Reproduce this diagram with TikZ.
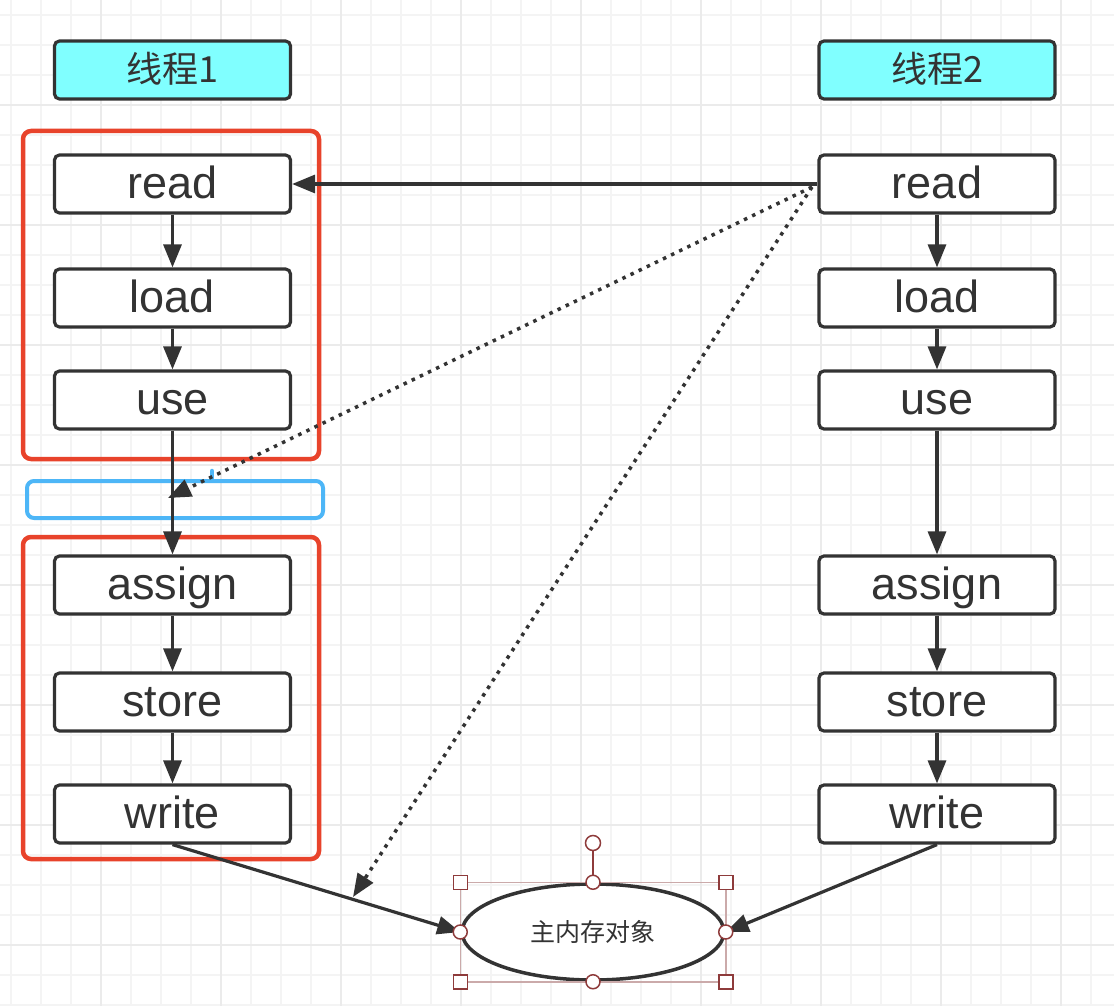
\documentclass[tikz,border=0pt]{standalone}
\usepackage{fontspec}
\setmainfont{Liberation Sans}
\newfontfamily\cjk{Noto Sans CJK SC}
\usetikzlibrary{arrows.meta, shapes.geometric, calc}
\definecolor{ink}{HTML}{333333}
\definecolor{headfill}{HTML}{80FFFF}
\definecolor{frame}{HTML}{E8432B}
\definecolor{sel}{HTML}{4DB6F7}
\definecolor{gridminor}{HTML}{F4F4F4}
\definecolor{gridmajor}{HTML}{EBEBEB}
\definecolor{handle}{HTML}{8E3B3B}
\definecolor{selframe}{HTML}{CBAAAA}

\begin{document}
\begin{tikzpicture}[x=1pt,y=-1pt]
        \tikzset{op/.style = {shape=rectangle,draw=ink,line width=3.2pt,rounded corners=5pt,fill=white,
            minimum width=236pt,minimum height=58pt,inner sep=0pt,text=ink,
            text height=28pt,text depth=0pt,font=\fontsize{45}{45}\selectfont}}
        \tikzset{head/.style = {op,fill=headfill,text height=26pt,font=\cjk\fontsize{36}{36}\selectfont}}
        \tikzset{edge/.style = {draw=ink,line width=3.2pt,-{Triangle[length=23pt,width=18pt]}}}
        \tikzset{dots/.style = {edge,line width=3.5pt,dash pattern=on 3.5pt off 5.5pt}}
        \tikzset{redframe/.style = {draw=frame,line width=4.5pt,rounded corners=8pt}}
        \tikzset{handlebox/.style = {draw=handle,fill=white,line width=1.5pt}}

        \fill[white] (0,0) rectangle (1114,1006);
        \useasboundingbox (0,0) rectangle (1114,1006);
        \foreach \gx in {11,41,...,1111} \draw[gridminor,line width=1.2pt] (\gx,0) -- (\gx,1006);
        \foreach \gy in {15,45,...,1005} \draw[gridminor,line width=1.2pt] (0,\gy) -- (1114,\gy);
        \foreach \gx in {101,221,...,1061} \draw[gridmajor,line width=1.2pt] (\gx,0) -- (\gx,1006);
        \foreach \gy in {105,225,...,945} \draw[gridmajor,line width=1.2pt] (0,\gy) -- (1114,\gy);

        \node[head] (head1) at (172.5, 70) {线程1};
        \node[op] (read1) at (172.5, 184) {read};
        \node[op] (load1) at (172.5, 298) {load};
        \node[op] (use1) at (172.5, 400) {use};
        \node[op] (assign1) at (172.5, 585) {assign};
        \node[op] (store1) at (172.5, 702) {store};
        \node[op] (write1) at (172.5, 814) {write};

        \node[head] (head2) at (937, 70) {线程2};
        \node[op] (read2) at (937, 184) {read};
        \node[op] (load2) at (937, 298) {load};
        \node[op] (use2) at (937, 400) {use};
        \node[op] (assign2) at (937, 585) {assign};
        \node[op] (store2) at (937, 702) {store};
        \node[op] (write2) at (937, 814) {write};

        \draw[redframe] (23, 131) rectangle (319, 459);
        \draw[redframe] (23, 537) rectangle (319, 859);
        \draw[sel,line width=4pt,rounded corners=7pt] (27, 481) rectangle (323, 518);
        \draw[sel,line width=4.5pt,line cap=round] (212, 471) -- (212, 480);

        \node[shape=ellipse,draw=ink,line width=3.5pt,fill=white,minimum width=262pt,minimum height=96pt,
            inner sep=0pt,text=ink,font=\cjk\fontsize{25}{25}\selectfont] (mem) at (593, 932) {主内存对象};

        \draw[edge] (read1) to (load1);
        \draw[edge] (load1) to (use1);
        \draw[edge] (use1) to (assign1);
        \draw[edge] (assign1) to (store1);
        \draw[edge] (store1) to (write1);

        \draw[edge] (read2) to (load2);
        \draw[edge] (load2) to (use2);
        \draw[edge] (use2) to (assign2);
        \draw[edge] (assign2) to (store2);
        \draw[edge] (store2) to (write2);

        \draw[edge] (read2.west) to (read1.east);
        \coordinate (src) at (812, 187);
        \coordinate (gap) at (168, 498);
        \coordinate (mid) at (353, 897);
        \draw[dots] (src) to (gap);
        \draw[dots] (src) to (mid);

        \draw[edge] (write1.south) to (mem.west);
        \draw[edge] (write2.south) to (mem.east);

        \coordinate (nw) at (mem.west |- mem.north);
        \coordinate (ne) at (mem.east |- mem.north);
        \coordinate (sw) at (mem.west |- mem.south);
        \coordinate (se) at (mem.east |- mem.south);
        \draw[selframe,line width=1.5pt] (nw) rectangle (se);
        \draw[handle,line width=1.5pt] (mem.north) -- (593, 851);
        \draw[handlebox] (593, 843) circle (7.5pt);
        \foreach \hc in {nw,ne,sw,se}
            \draw[handlebox] ($(\hc)+(-7,-7)$) rectangle ++(14,14);
        \foreach \hc in {north,south,west,east}
            \draw[handlebox] (mem.\hc) circle (7pt);
\end{tikzpicture}
\end{document}
